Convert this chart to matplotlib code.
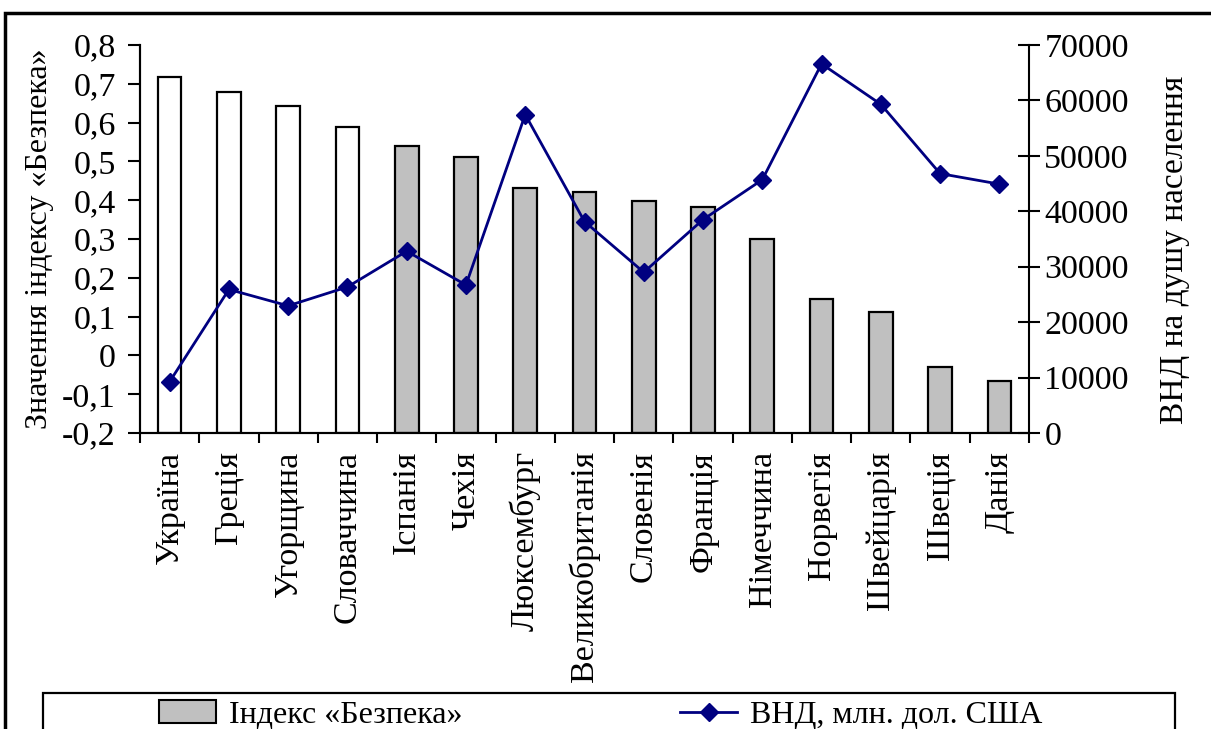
import matplotlib.pyplot as plt
from matplotlib.patches import Rectangle, Patch
from matplotlib.lines import Line2D
from matplotlib.ticker import FuncFormatter, MultipleLocator
import numpy as np

plt.rcParams['font.family'] = ['Liberation Serif', 'DejaVu Serif']
plt.rcParams['font.size'] = 23

countries = ['Україна', 'Греція', 'Угорщина', 'Словаччина', 'Іспанія', 'Чехія',
             'Люксембург', 'Великобританія', 'Словенія', 'Франція', 'Німеччина',
             'Норвегія', 'Швейцарія', 'Швеція', 'Данія']
index_vals = [0.718, 0.680, 0.642, 0.588, 0.539, 0.512, 0.431, 0.420, 0.398,
              0.383, 0.301, 0.145, 0.112, -0.030, -0.067]
gni_vals = [9250, 25900, 22950, 26350, 32800, 26700, 57450, 38150, 29000,
            38500, 45700, 66600, 59300, 46800, 44900]
n_white = 4

W, H = 1211, 729
fig = plt.figure(figsize=(W / 100, H / 100), dpi=100)
ax = fig.add_axes([140 / W, 1 - 433 / H, 889 / W, 388 / H])
ax2 = ax.twinx()

x = np.arange(len(countries))
base = -0.2
colors = ['white'] * n_white + ['#c0c0c0'] * (len(countries) - n_white)
ax.bar(x, np.array(index_vals) - base, bottom=base, width=0.4,
       color=colors, edgecolor='black', linewidth=1.6, zorder=2)

ax2.plot(x, gni_vals, color='#000080', linewidth=2, marker='D',
         markersize=9, zorder=3)

ax.set_xlim(-0.5, len(countries) - 0.5)
ax.set_ylim(-0.2, 0.8)
ax.yaxis.set_major_locator(MultipleLocator(0.1))
ax.yaxis.set_major_formatter(FuncFormatter(
    lambda v, p: '0' if abs(v) < 1e-9 else f'{v:.1f}'.replace('.', ',')))
ax2.set_ylim(0, 70000)
ax2.yaxis.set_major_locator(MultipleLocator(10000))

ax.set_xticks(np.arange(-0.5, len(countries), 1.0))
ax.set_xticklabels([])
ax.set_xticks(x, minor=True)
ax.set_xticklabels(countries, minor=True, rotation=90, va='top', ha='center',
                   fontsize=24.5)
ax.tick_params(axis='x', which='minor', length=0, pad=13)
ax.tick_params(axis='x', which='major', direction='out', length=7, width=1.5)
ax.tick_params(axis='y', direction='out', length=8.5, width=1.5, pad=9,
               labelsize=24.5)
ax2.tick_params(axis='y', direction='inout', length=16, width=1.5, pad=3,
                labelsize=24.5)

for a in (ax, ax2):
    a.spines['top'].set_visible(False)
    for s in ('left', 'right', 'bottom'):
        a.spines[s].set_linewidth(1.5)
ax.spines['right'].set_visible(False)

ax.set_ylabel('Значення індексу «Безпека»', labelpad=6)
ax2.set_ylabel('ВНД на душу населення', fontsize=24, va='center')
ax2.yaxis.set_label_coords((1175 - 140) / 889, (433 - 250) / 388)

# outer frame and legend box (both run past the picture edge)
fig.add_artist(Rectangle((5 / W, -1), 2, 2 - 13 / H, transform=fig.transFigure,
                         fill=False, edgecolor='black', linewidth=2.5))
fig.add_artist(Rectangle((43 / W, -1), 1132 / W, 1 + (H - 693) / H,
                         transform=fig.transFigure, fill=False,
                         edgecolor='black', linewidth=1.6))

handles = [Patch(facecolor='#c0c0c0', edgecolor='black', linewidth=1.5),
           Line2D([], [], color='#000080', linewidth=2, marker='D', markersize=9)]
fig.legend(handles, ['Індекс «Безпека»', 'ВНД, млн. дол. США'], ncol=2,
           frameon=False, loc='center left',
           bbox_to_anchor=(143 / W, 1 - 715 / H), handlelength=1.8,
           handletextpad=0.4, columnspacing=6.8, borderpad=0)

fig.savefig('out.png', dpi=100)
